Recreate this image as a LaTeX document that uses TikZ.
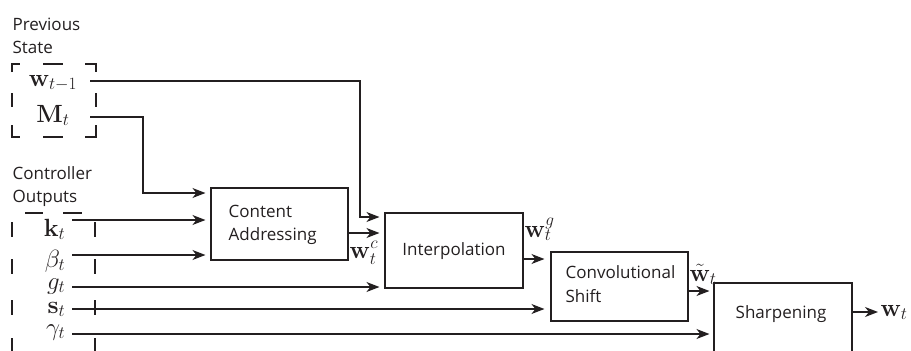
\documentclass[tikz,border=0pt]{standalone}
\usepackage[no-math]{fontspec}
\setmainfont{Open Sans}
\usetikzlibrary{arrows.meta}
\DeclareMathSizes{24}{24}{19}{15}
\definecolor{ink}{HTML}{231F20}
\begin{document}
\begin{tikzpicture}[x=1pt,y=-1pt,
  line width=1.3pt, draw=ink,
  arr/.style={draw=ink, line width=1.3pt, -{Stealth[length=13pt,width=10pt,inset=4pt]}},
  box/.style={draw=ink, line width=1.1pt, inner sep=0pt},
  txt/.style={font=\fontsize{17}{23}\selectfont, text=ink, inner sep=0pt},
  mth/.style={font=\fontsize{24}{28}\selectfont, text=ink, inner sep=0pt},
  dashbox/.style={draw=ink, line width=1.3pt}]
\useasboundingbox (0,0) rectangle (911,351);

% ---- group titles
\node[txt, anchor=base west] (prev1) at (12,30) {Previous};
\node[txt, anchor=base west] (prev2) at (12,53) {State};
\node[txt, anchor=base west] (ctrl1) at (12,179) {Controller};
\node[txt, anchor=base west] (ctrl2) at (12,202) {Outputs};

% ---- dashed frame around previous state
\draw[dashbox] (12,72) -- (12,64) -- (20,64);
\draw[dashbox] (43,64) -- (63,64);
\draw[dashbox] (85,64) -- (96,64) -- (96,72);
\draw[dashbox] (12,93) -- (12,107);
\draw[dashbox] (96,93) -- (96,107);
\draw[dashbox] (12,125) -- (12,137) -- (20,137);
\draw[dashbox] (43,137) -- (63,137);
\draw[dashbox] (85,137) -- (96,137) -- (96,125);

% ---- dashed frame around controller outputs
\draw[dashbox] (25,213) -- (43,213);
\draw[dashbox] (63,213) -- (82,213);
\foreach \a/\b in {222/237,259/274,300/315,338/360}{
  \draw[dashbox] (12,\a) -- (12,\b);
  \draw[dashbox] (95,\a) -- (95,\b);
}

% ---- state and controller symbols
\node[mth, anchor=base] (wprev) at (53,86) {$\mathbf{w}_{t-1}$};
\node[mth, anchor=base] (mt) at (53,122) {$\mathbf{M}_t$};
\node[mth, anchor=base east] (kt) at (66,236) {$\mathbf{k}_t$};
\node[mth, anchor=base east] (bt) at (66,267) {$\beta_t$};
\node[mth, anchor=base east] (gt) at (66,289) {$g_t$};
\node[mth, anchor=base east] (st) at (66,313) {$\mathbf{s}_t$};
\node[mth, anchor=base east] (gmt) at (66,335) {$\gamma_t$};

% ---- processing boxes
\node[box, minimum width=137pt, minimum height=72pt] (ca) at (279.5,224) {};
\node[box, minimum width=138pt, minimum height=75pt] (ip) at (454,250.5) {};
\node[box, minimum width=137pt, minimum height=69pt] (cs) at (619.5,286.5) {};
\node[box, minimum width=138pt, minimum height=100pt] (sh) at (783,333) {};

\node[txt, anchor=base west] (caA) at (228,217) {Content};
\node[txt, anchor=base west] (caB) at (228,240) {Addressing};
\node[txt, anchor=base] (ipL) at (454,255) {Interpolation};
\node[txt, anchor=base west] (csA) at (565,278) {Convolutional};
\node[txt, anchor=base west] (csB) at (565,302) {Shift};
\node[txt, anchor=base] (shL) at (781,318) {Sharpening};

% ---- intermediate weightings
\node[mth, anchor=base west] (wc) at (349,258) {$\mathbf{w}_t^c$};
\node[mth, anchor=base west] (wg) at (524,237) {$\mathbf{w}_t^g$};
\node[mth, anchor=base west] (wtl) at (689,281) {$\tilde{\mathbf{w}}_t$};
\node[mth, anchor=base west] (wout) at (880,316) {$\mathbf{w}_t$};

% ---- connector end points
\coordinate (wsrc) at (90,81);
\coordinate (msrc) at (90,117);
\coordinate (ksrc) at (72,220);
\coordinate (bsrc) at (72,255);
\coordinate (gsrc) at (72,287);
\coordinate (ssrc) at (72,309);
\coordinate (gmsrc) at (72,334);
\coordinate (outend) at (878,312);

% ---- connectors
\draw[arr, shorten >=5pt] (wsrc) -| (360,217) -- (ip.west |- 0,217);
\draw[arr, shorten >=5pt] (msrc) -| (143,193) -- (ca.west |- 0,193);
\draw[arr, shorten >=5pt] (ksrc) -- (ca.west |- ksrc);
\draw[arr, shorten >=5pt] (bsrc) -- (ca.west |- bsrc);
\draw[arr, shorten >=5pt] (ca.east |- 0,233) -- (ip.west |- 0,233);
\draw[arr, shorten >=5pt] (gsrc) -- (ip.west |- gsrc);
\draw[arr, shorten >=6pt] (ip.east |- 0,259) -- (cs.west |- 0,259);
\draw[arr, shorten >=6pt] (ssrc) -- (cs.west |- ssrc);
\draw[arr, shorten >=4pt] (cs.east |- 0,291) -- (sh.west |- 0,291);
\draw[arr, shorten >=4pt] (gmsrc) -- (sh.west |- gmsrc);
\draw[arr] (sh.east |- outend) -- (outend);
\end{tikzpicture}
\end{document}
